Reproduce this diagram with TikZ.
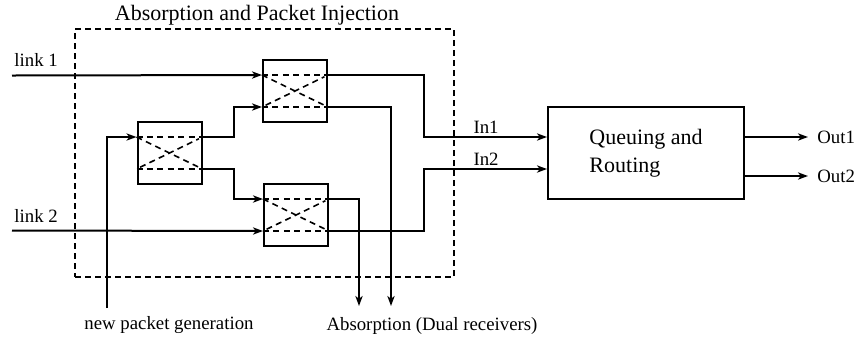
\documentclass[tikz,border=0pt]{standalone}
\usepackage{fontspec}
\setmainfont{Liberation Serif}
\usetikzlibrary{arrows.meta,positioning,calc}

\begin{document}
\begin{tikzpicture}[x=0.5pt, y=-0.5pt,
    sw/.style={draw, line width=1pt, minimum width=32pt, minimum height=31pt, inner sep=0pt},
    box/.style={draw, line width=1pt, minimum width=98pt, minimum height=46pt, align=left, font=\fontsize{11}{14}\selectfont},
    grpbox/.style={draw, line width=0.7pt, dash pattern=on 3pt off 2pt, minimum width=189.5pt, minimum height=124pt, inner sep=0pt},
    arr/.style={-{Stealth[length=5pt, width=3.6pt, inset=1.4pt]}, line width=1pt},
    xdash/.style={line width=0.8pt, dash pattern=on 3pt off 2.2pt},
    lbl/.style={font=\fontsize{9.4}{11}\selectfont, inner sep=1pt}
]
    \useasboundingbox (0,0) rectangle (854,339);
    \node[grpbox] (grp) at (264.5,153) {};
    \node[font=\fontsize{11}{13}\selectfont] (ttl) at (257,15) {Absorption and Packet Injection};
    \node[sw] (sw0) at (169.5,153) {};
    \node[sw] (sw1) at (295,91) {};
    \node[sw] (sw2) at (296,215) {};
    \node[box] (q) at (646,153) {Queuing and\\Routing};
    \foreach \s in {sw0,sw1,sw2} {
        \coordinate (\s-a) at ($(\s.north west)!.25!(\s.south west)$);
        \coordinate (\s-b) at ($(\s.north west)!.75!(\s.south west)$);
        \coordinate (\s-c) at ($(\s.north east)!.25!(\s.south east)$);
        \coordinate (\s-d) at ($(\s.north east)!.75!(\s.south east)$);
        \draw[xdash] (\s-a) -- (\s-c) (\s-b) -- (\s-d);
        \draw[xdash, shorten <=2pt, shorten >=2pt] (\s-a) -- (\s-d) (\s-b) -- (\s-c);
    }
    \coordinate (l1) at (12,75.5);
    \coordinate (l2) at (12,230.5);
    \coordinate (gen) at (107,308);
    \coordinate (ab1) at (359,306);
    \coordinate (ab2) at (391,306);
    \coordinate (in1) at ($(q.west)+(0,-16)$);
    \coordinate (in2) at ($(q.west)+(0,16)$);
    \coordinate (o1) at ($(q.east)+(0,-16)$);
    \coordinate (o2) at ($(q.east)+(0,23)$);
    \coordinate (out1) at ($(o1)+(63,0)$);
    \coordinate (out2) at ($(o2)+(63,0)$);
    \draw[arr] (l1) -- (sw1-a);
    \draw[arr] (l2) -- (sw2-b);
    \draw[arr] (gen) |- (sw0-a);
    \draw[arr] (sw0-c) -- ++(31,0) |- (sw1-b);
    \draw[arr] (sw0-d) -- ++(31,0) |- (sw2-a);
    \draw[arr] (sw1-c) -- ++(96,0) |- (in1);
    \draw[arr] (sw2-d) -- ++(95,0) |- (in2);
    \draw[arr] (sw1-d) -| (ab2);
    \draw[arr] (sw2-c) -| (ab1);
    \draw[arr] (o1) -- (out1);
    \draw[arr] (o2) -- (out2);
    \node[lbl, above right=3.5pt and 0pt of l1] (tl1) {link 1};
    \node[lbl, above right=3pt and 0pt of l2] (tl2) {link 2};
    \node[lbl, above left=0.5pt and 23pt of in1] (tin1) {In1};
    \node[lbl, above left=0.5pt and 23pt of in2] (tin2) {In2};
    \node[lbl, right=3.5pt of out1] (tout1) {Out1};
    \node[lbl, right=3.5pt of out2] (tout2) {Out2};
    \node[lbl] (tgen) at (169,325) {new packet generation};
    \node[lbl] (tabs) at (432,326) {Absorption (Dual receivers)};
\end{tikzpicture}
\end{document}
